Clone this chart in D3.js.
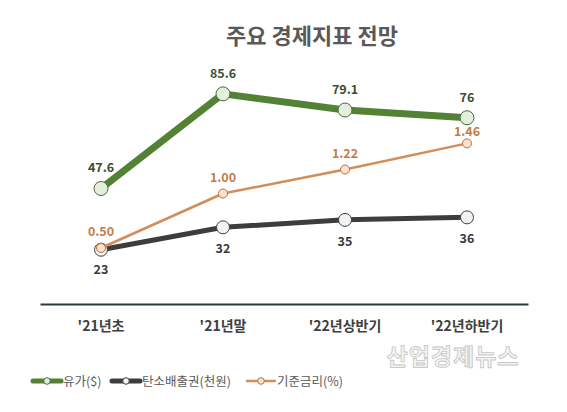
<!DOCTYPE html>
<html>
<head>
<meta charset="utf-8">
<script src="https://cdn.jsdelivr.net/npm/d3@7"></script>
<style>
  body { margin: 0; background: #fff; }
  text { font-family: "Noto Sans CJK KR", "Noto Sans", sans-serif; }
</style>
</head>
<body>
<svg class="chart"></svg>
<script>
// data
let categories = ["'21년초", "'21년말", "'22년상반기", "'22년하반기"];
let oilPrice = [47.6, 85.6, 79.1, 76];        // 유가($)
let carbon = [23, 32, 35, 36];                // 탄소배출권(천원)
let baseRate = [0.50, 1.00, 1.22, 1.46];      // 기준금리(%)
let seriesNames = ["유가($)", "탄소배출권(천원)", "기준금리(%)"];

let width = 567, height = 412;

let svg = d3.select(".chart")
  .attr("width", width)
  .attr("height", height);

let x = d3.scaleBand()
  .domain(categories)
  .range([40, 528]);

// primary axis for oil + carbon, secondary for the rate
let y = d3.scaleLinear().domain([0, 100]).range([307, 58]);
let y2 = d3.scaleLinear().domain([0, 1]).range([302.5, 193.5]);

let cx = (d, i) => x(categories[i]) + x.bandwidth() / 2;

let series = [
  { name: seriesNames[0], values: oilPrice, scale: y, line: "#548235", width: 7,
    r: 7, fill: "#e2efda", stroke: "#4a6a3a", label: "#3b4f2c", dy: [-16, -16, -16, -16], fmt: d => d },
  { name: seriesNames[1], values: carbon, scale: y, line: "#3d3d3d", width: 5,
    r: 6.5, fill: "#f2f2f2", stroke: "#404040", label: "#3a3a3a", dy: [24, 26, 26, 26], fmt: d => d },
  { name: seriesNames[2], values: baseRate, scale: y2, line: "#d28d58", width: 2.5,
    r: 4.5, fill: "#fbe2d0", stroke: "#b8703c", label: "#c27c44", dy: [-12, -12, -12, -7], fmt: d => d.toFixed(2) }
];

// title
svg.append("text")
  .attr("x", 312)
  .attr("y", 44)
  .attr("text-anchor", "middle")
  .style("font-size", "22px")
  .style("font-weight", "bold")
  .style("fill", "#595959")
  .text("주요 경제지표 전망");

// category axis
let xAxis = svg.append("g")
  .attr("transform", "translate(0,304)")
  .call(d3.axisBottom(x).tickSize(0).tickPadding(17));
xAxis.select(".domain").attr("stroke", "#2b3a40").attr("stroke-width", 2.2);
xAxis.selectAll("text")
  .style("font-size", "14px")
  .style("font-weight", "bold")
  .style("fill", "#404040")
  .style("font-family", "\"Noto Sans CJK KR\", sans-serif");

// watermark
svg.append("text")
  .attr("x", 453)
  .attr("y", 365)
  .attr("text-anchor", "middle")
  .style("font-size", "23px")
  .style("font-weight", "bold")
  .style("fill", "#f4f4f4")
  .style("stroke", "#c9c9c9")
  .style("stroke-width", 0.9)
  .style("letter-spacing", "1px")
  .text("산업경제뉴스");

series.forEach(s => {
  let g = svg.append("g");
  let line = d3.line()
    .x((d, i) => cx(d, i))
    .y(d => s.scale(d));

  g.append("path")
    .datum(s.values)
    .attr("d", line)
    .attr("fill", "none")
    .attr("stroke", s.line)
    .attr("stroke-width", s.width)
    .attr("stroke-linejoin", "round");

  g.selectAll("circle")
    .data(s.values)
    .enter()
    .append("circle")
    .attr("cx", cx)
    .attr("cy", d => s.scale(d))
    .attr("r", s.r)
    .attr("fill", s.fill)
    .attr("stroke", s.stroke)
    .attr("stroke-width", 1);

  g.selectAll("text")
    .data(s.values)
    .enter()
    .append("text")
    .attr("x", cx)
    .attr("y", (d, i) => s.scale(d) + s.dy[i])
    .attr("text-anchor", "middle")
    .style("font-size", "12.5px")
    .style("font-weight", "bold")
    .style("fill", s.label)
    .text(s.fmt);
});

// legend
let legendX = [33, 112, 247];
let legend = svg.selectAll(".legend")
  .data(series)
  .enter()
  .append("g")
  .attr("class", "legend")
  .attr("transform", (d, i) => "translate(" + legendX[i] + ",381)");

legend.append("line")
  .attr("x1", 0).attr("x2", 28)
  .attr("stroke", d => d.line)
  .attr("stroke-width", d => Math.min(d.width, 5))
  .attr("stroke-linecap", "round");

legend.append("circle")
  .attr("cx", 14)
  .attr("r", 3.3)
  .attr("fill", d => d.fill)
  .attr("stroke", d => d.stroke)
  .attr("stroke-width", 1);

legend.append("text")
  .attr("x", 30)
  .attr("y", 4.5)
  .style("font-size", "12.5px")
  .style("fill", "#595959")
  .text(d => d.name);
</script>
</body>
</html>
